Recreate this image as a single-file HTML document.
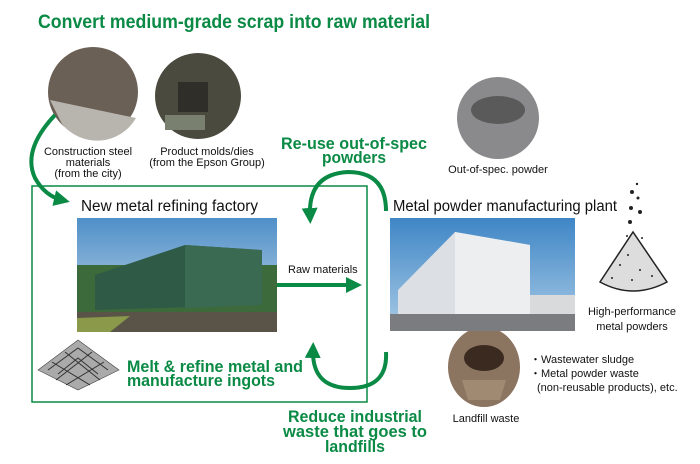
<!DOCTYPE html>
<html><head><meta charset="utf-8"><style>
body{margin:0;width:700px;height:464px;background:#fff;overflow:hidden}
svg{display:block}
text{font-family:"Liberation Sans",sans-serif}
.g{fill:#0a8a45;font-weight:bold}
</style></head><body>
<svg width="700" height="464" viewBox="0 0 700 464">
<defs>
<linearGradient id="sky" x1="0" y1="0" x2="0" y2="1"><stop offset="0" stop-color="#4f8fc8"/><stop offset="1" stop-color="#c9dcea"/></linearGradient>
<linearGradient id="sky2" x1="0" y1="0" x2="0" y2="1"><stop offset="0" stop-color="#3f86c6"/><stop offset="1" stop-color="#a9cbe6"/></linearGradient>
<marker id="ah" markerWidth="4" markerHeight="4" refX="2" refY="2" orient="auto" markerUnits="strokeWidth"><path d="M0,0 L4,2 L0,4 Z" fill="#0a8a45"/></marker>
</defs>
<text x="38" y="28" class="g" font-size="19" textLength="392" lengthAdjust="spacingAndGlyphs">Convert medium-grade scrap into raw material</text>
<!-- circles -->
<circle cx="93" cy="92" r="45" fill="#6b6055"/>
<path d="M50,100 L136,118 A45,45 0 0 1 62,124 Z" fill="#b8b4ae"/>
<circle cx="198" cy="96" r="43" fill="#4b4a3e"/>
<rect x="178" y="82" width="30" height="30" fill="#2f2e28"/>
<rect x="165" y="115" width="40" height="15" fill="#7a8070"/>
<circle cx="498" cy="118" r="41" fill="#8a8a8c"/>
<ellipse cx="498" cy="110" rx="27" ry="14" fill="#5a5a5a"/>
<ellipse cx="484" cy="367" rx="36" ry="40" fill="#8b7460"/>
<ellipse cx="484" cy="358" rx="20" ry="13" fill="#3a2a20"/>
<path d="M462,380 L506,380 L500,400 L468,400 Z" fill="#a08a72"/>
<g font-size="11" fill="#111" text-anchor="middle">
<text x="88" y="155">Construction steel</text><text x="88" y="166">materials</text><text x="88" y="177">(from the city)</text>
<text x="207" y="155">Product molds/dies</text><text x="207" y="166">(from the Epson Group)</text>
<text x="498" y="173">Out-of-spec. powder</text>
<text x="632" y="315">High-performance</text><text x="632" y="330">metal powders</text>
<text x="486" y="422">Landfill waste</text>
</g>
<g font-size="11" fill="#111">
<text x="530" y="363">・Wastewater sludge</text>
<text x="530" y="377">・Metal powder waste</text>
<text x="537" y="391">(non-reusable products), etc.</text>
</g>
<!-- box -->
<rect x="32" y="186" width="335" height="216" fill="none" stroke="#0a8a45" stroke-width="1.5"/>
<text x="81" y="211" font-size="15.5" fill="#111" textLength="177" lengthAdjust="spacingAndGlyphs">New metal refining factory</text>
<text x="393" y="211" font-size="15.5" fill="#111" textLength="224" lengthAdjust="spacingAndGlyphs">Metal powder manufacturing plant</text>
<!-- factory image -->
<rect x="77" y="218" width="200" height="114" fill="url(#sky)"/>
<rect x="77" y="265" width="200" height="50" fill="#3d6a3a"/>
<path d="M95,275 L185,245 L260,250 L262,305 L95,310 Z" fill="#2f5a45"/>
<path d="M185,245 L262,250 L262,305 L185,308 Z" fill="#3a6a52"/>
<rect x="77" y="312" width="200" height="20" fill="#5a5448"/>
<path d="M77,318 L130,316 L110,332 L77,332 Z" fill="#8a9a4a"/>
<!-- powder plant image -->
<rect x="390" y="218" width="185" height="113" fill="url(#sky2)"/>
<path d="M398,290 L455,232 L530,245 L530,316 L398,316 Z" fill="#dcdfe4"/>
<path d="M455,232 L530,245 L530,316 L455,316 Z" fill="#eceef0"/>
<rect x="530" y="295" width="45" height="21" fill="#d8dadc"/>
<rect x="390" y="314" width="185" height="17" fill="#7a7c80"/>
<text x="288" y="273" font-size="11" fill="#111">Raw materials</text>
<line x1="277" y1="285" x2="354" y2="285" stroke="#0a8a45" stroke-width="4" marker-end="url(#ah)"/>
<!-- arrows -->
<path d="M55,115 Q22,150 35,178 Q45,196 62,200" fill="none" stroke="#0a8a45" stroke-width="4" marker-end="url(#ah)"/>
<path d="M386,211 Q386,172 348,172 Q308,174 310,216" fill="none" stroke="#0a8a45" stroke-width="4" marker-end="url(#ah)"/>
<path d="M386,352 Q388,388 350,388 Q312,388 313,350" fill="none" stroke="#0a8a45" stroke-width="4" marker-end="url(#ah)"/>
<g class="g" font-size="16.5" text-anchor="middle">
<text x="354" y="149" textLength="146" lengthAdjust="spacingAndGlyphs">Re-use out-of-spec</text><text x="354" y="163" textLength="64" lengthAdjust="spacingAndGlyphs">powders</text>
<text x="355" y="422" textLength="134" lengthAdjust="spacingAndGlyphs">Reduce industrial</text><text x="355" y="437" textLength="144" lengthAdjust="spacingAndGlyphs">waste that goes to</text><text x="355" y="452" textLength="60" lengthAdjust="spacingAndGlyphs">landfills</text>
</g>
<text x="127" y="372" class="g" font-size="17" textLength="176" lengthAdjust="spacingAndGlyphs">Melt &amp; refine metal and</text>
<text x="127" y="386" class="g" font-size="17" textLength="148" lengthAdjust="spacingAndGlyphs">manufacture ingots</text>
<!-- ingots -->
<path d="M38,370 L78,340 L119,370 L78,390 Z" fill="#aaa" stroke="#444" stroke-width="0.6"/>
<g stroke="#333" stroke-width="1" fill="none"><path d="M48,370 L78,348 L108,370 M58,374 L78,358 L98,374 M52,362 L90,385 M104,362 L66,385 M65,352 L100,380 M92,352 L56,380"/></g>
<!-- cone -->
<path d="M633,232 L667,282 Q633,300 600,282 Z" fill="#ddd" stroke="#222" stroke-width="1.5"/>
<g fill="#222"><circle cx="637" cy="184" r="1.2"/><circle cx="632" cy="192" r="2"/><circle cx="638" cy="198" r="1.5"/><circle cx="631" cy="208" r="2"/><circle cx="640" cy="212" r="2"/><circle cx="630" cy="222" r="2"/><circle cx="627" cy="236" r="1"/><circle cx="642" cy="238" r="1"/><circle cx="628" cy="255" r="1"/><circle cx="620" cy="265" r="1"/><circle cx="640" cy="270" r="1"/><circle cx="632" cy="280" r="1"/><circle cx="612" cy="278" r="1"/><circle cx="652" cy="276" r="1"/></g>
</svg>
</body></html>
